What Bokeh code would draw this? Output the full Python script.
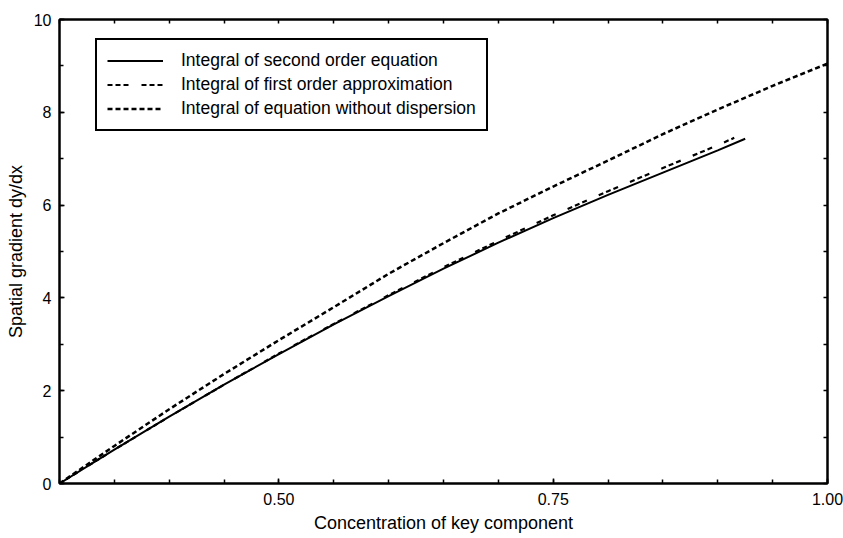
from bokeh.plotting import figure
from bokeh.models import (Range1d, FixedTicker, LinearAxis, Legend, LegendItem,
                          PrintfTickFormatter)
from bokeh.embed import file_html
from bokeh.resources import INLINE

# Concentration of key component (x) and spatial gradient dy/dx (y)
x_second = [0.30, 0.35, 0.40, 0.45, 0.50, 0.55, 0.60, 0.65, 0.70, 0.75, 0.80, 0.85, 0.90, 0.925]
y_second = [0.00, 0.73, 1.44, 2.13, 2.79, 3.43, 4.04, 4.63, 5.19, 5.72, 6.22, 6.70, 7.18, 7.43]

x_first = [0.30, 0.35, 0.40, 0.45, 0.50, 0.55, 0.60, 0.65, 0.70, 0.75, 0.80, 0.85, 0.90, 0.915]
y_first = [0.00, 0.73, 1.44, 2.13, 2.80, 3.44, 4.06, 4.66, 5.23, 5.78, 6.30, 6.80, 7.29, 7.45]

x_nodisp = [0.30, 0.35, 0.40, 0.45, 0.50, 0.55, 0.60, 0.65, 0.70, 0.75, 0.80, 0.85, 0.90, 0.95, 1.00]
y_nodisp = [0.00, 0.81, 1.60, 2.36, 3.09, 3.80, 4.52, 5.18, 5.82, 6.40, 6.96, 7.53, 8.06, 8.57, 9.05]

series_labels = ["Integral of second order equation",
                 "Integral of first order approximation",
                 "Integral of equation without dispersion"]

x_major = [0.50, 0.75, 1.00]
x_minor = [0.30, 0.35, 0.40, 0.45, 0.50, 0.55, 0.60, 0.65, 0.70, 0.75, 0.80, 0.85, 0.90, 0.95, 1.00]
y_major = [0, 2, 4, 6, 8, 10]
y_minor = [0, 1, 2, 3, 4, 5, 6, 7, 8, 9, 10]

FONT = "Liberation Sans"

p = figure(width=843, height=538, output_backend="svg", toolbar_location=None,
           x_range=Range1d(0.3, 1.0), y_range=Range1d(0, 10),
           x_axis_type=None, y_axis_type=None,
           min_border_left=59, min_border_right=16, min_border_top=19, min_border_bottom=55)
p.background_fill_color = "white"
p.border_fill_color = "white"
p.outline_line_color = "black"
p.outline_line_width = 2
p.xgrid.visible = False
p.ygrid.visible = False


def style_axis(ax):
    ax.axis_line_color = "black"
    ax.axis_line_width = 2
    ax.major_tick_line_color = "black"
    ax.minor_tick_line_color = "black"
    ax.major_tick_line_width = 1.5
    ax.minor_tick_line_width = 1.5
    ax.major_tick_in = 5
    ax.major_tick_out = 0
    ax.minor_tick_in = 4
    ax.minor_tick_out = 0
    ax.major_label_text_font = FONT
    ax.major_label_text_font_size = "16px"
    ax.major_label_text_color = "black"
    ax.axis_label_text_font = FONT
    ax.axis_label_text_font_size = "18px"
    ax.axis_label_text_font_style = "normal"
    ax.axis_label_text_color = "black"


xb = LinearAxis(ticker=FixedTicker(ticks=x_major, minor_ticks=x_minor),
                formatter=PrintfTickFormatter(format="%.2f"),
                axis_label="Concentration of key component")
style_axis(xb)
xb.major_label_standoff = 9
xb.axis_label_standoff = 5
p.add_layout(xb, "below")

yl = LinearAxis(ticker=FixedTicker(ticks=y_major, minor_ticks=y_minor),
                axis_label="Spatial gradient dy/dx")
style_axis(yl)
yl.major_label_standoff = 8
yl.axis_label_standoff = 5
p.add_layout(yl, "left")

# mirrored tick marks on the top and right edges, no labels
xt = LinearAxis(ticker=FixedTicker(ticks=[], minor_ticks=x_minor))
style_axis(xt)
p.add_layout(xt, "above")

yr = LinearAxis(ticker=FixedTicker(ticks=[], minor_ticks=y_minor))
style_axis(yr)
p.add_layout(yr, "right")

r1 = p.line(x_second, y_second, line_color="black", line_width=2)
r2 = p.line(x_first, y_first, line_color="black", line_width=2.2, line_dash="5 3 5 3 5 13")
r3 = p.line(x_nodisp, y_nodisp, line_color="black", line_width=2.5, line_dash="5 3")

legend = Legend(items=[LegendItem(label=series_labels[0], renderers=[r1]),
                       LegendItem(label=series_labels[1], renderers=[r2]),
                       LegendItem(label=series_labels[2], renderers=[r3])],
                location=(36, 352))
legend.border_line_color = "black"
legend.border_line_alpha = 1
legend.border_line_width = 2
legend.background_fill_color = "white"
legend.background_fill_alpha = 1
legend.padding = 10
legend.margin = 0
legend.spacing = 3
legend.glyph_width = 56
legend.glyph_height = 19
legend.label_height = 19
legend.label_standoff = 18
legend.label_text_font = FONT
legend.label_text_font_size = "17.5px"
legend.label_text_color = "black"
p.add_layout(legend, "center")

open("out.html", "w").write(file_html(p, INLINE))
